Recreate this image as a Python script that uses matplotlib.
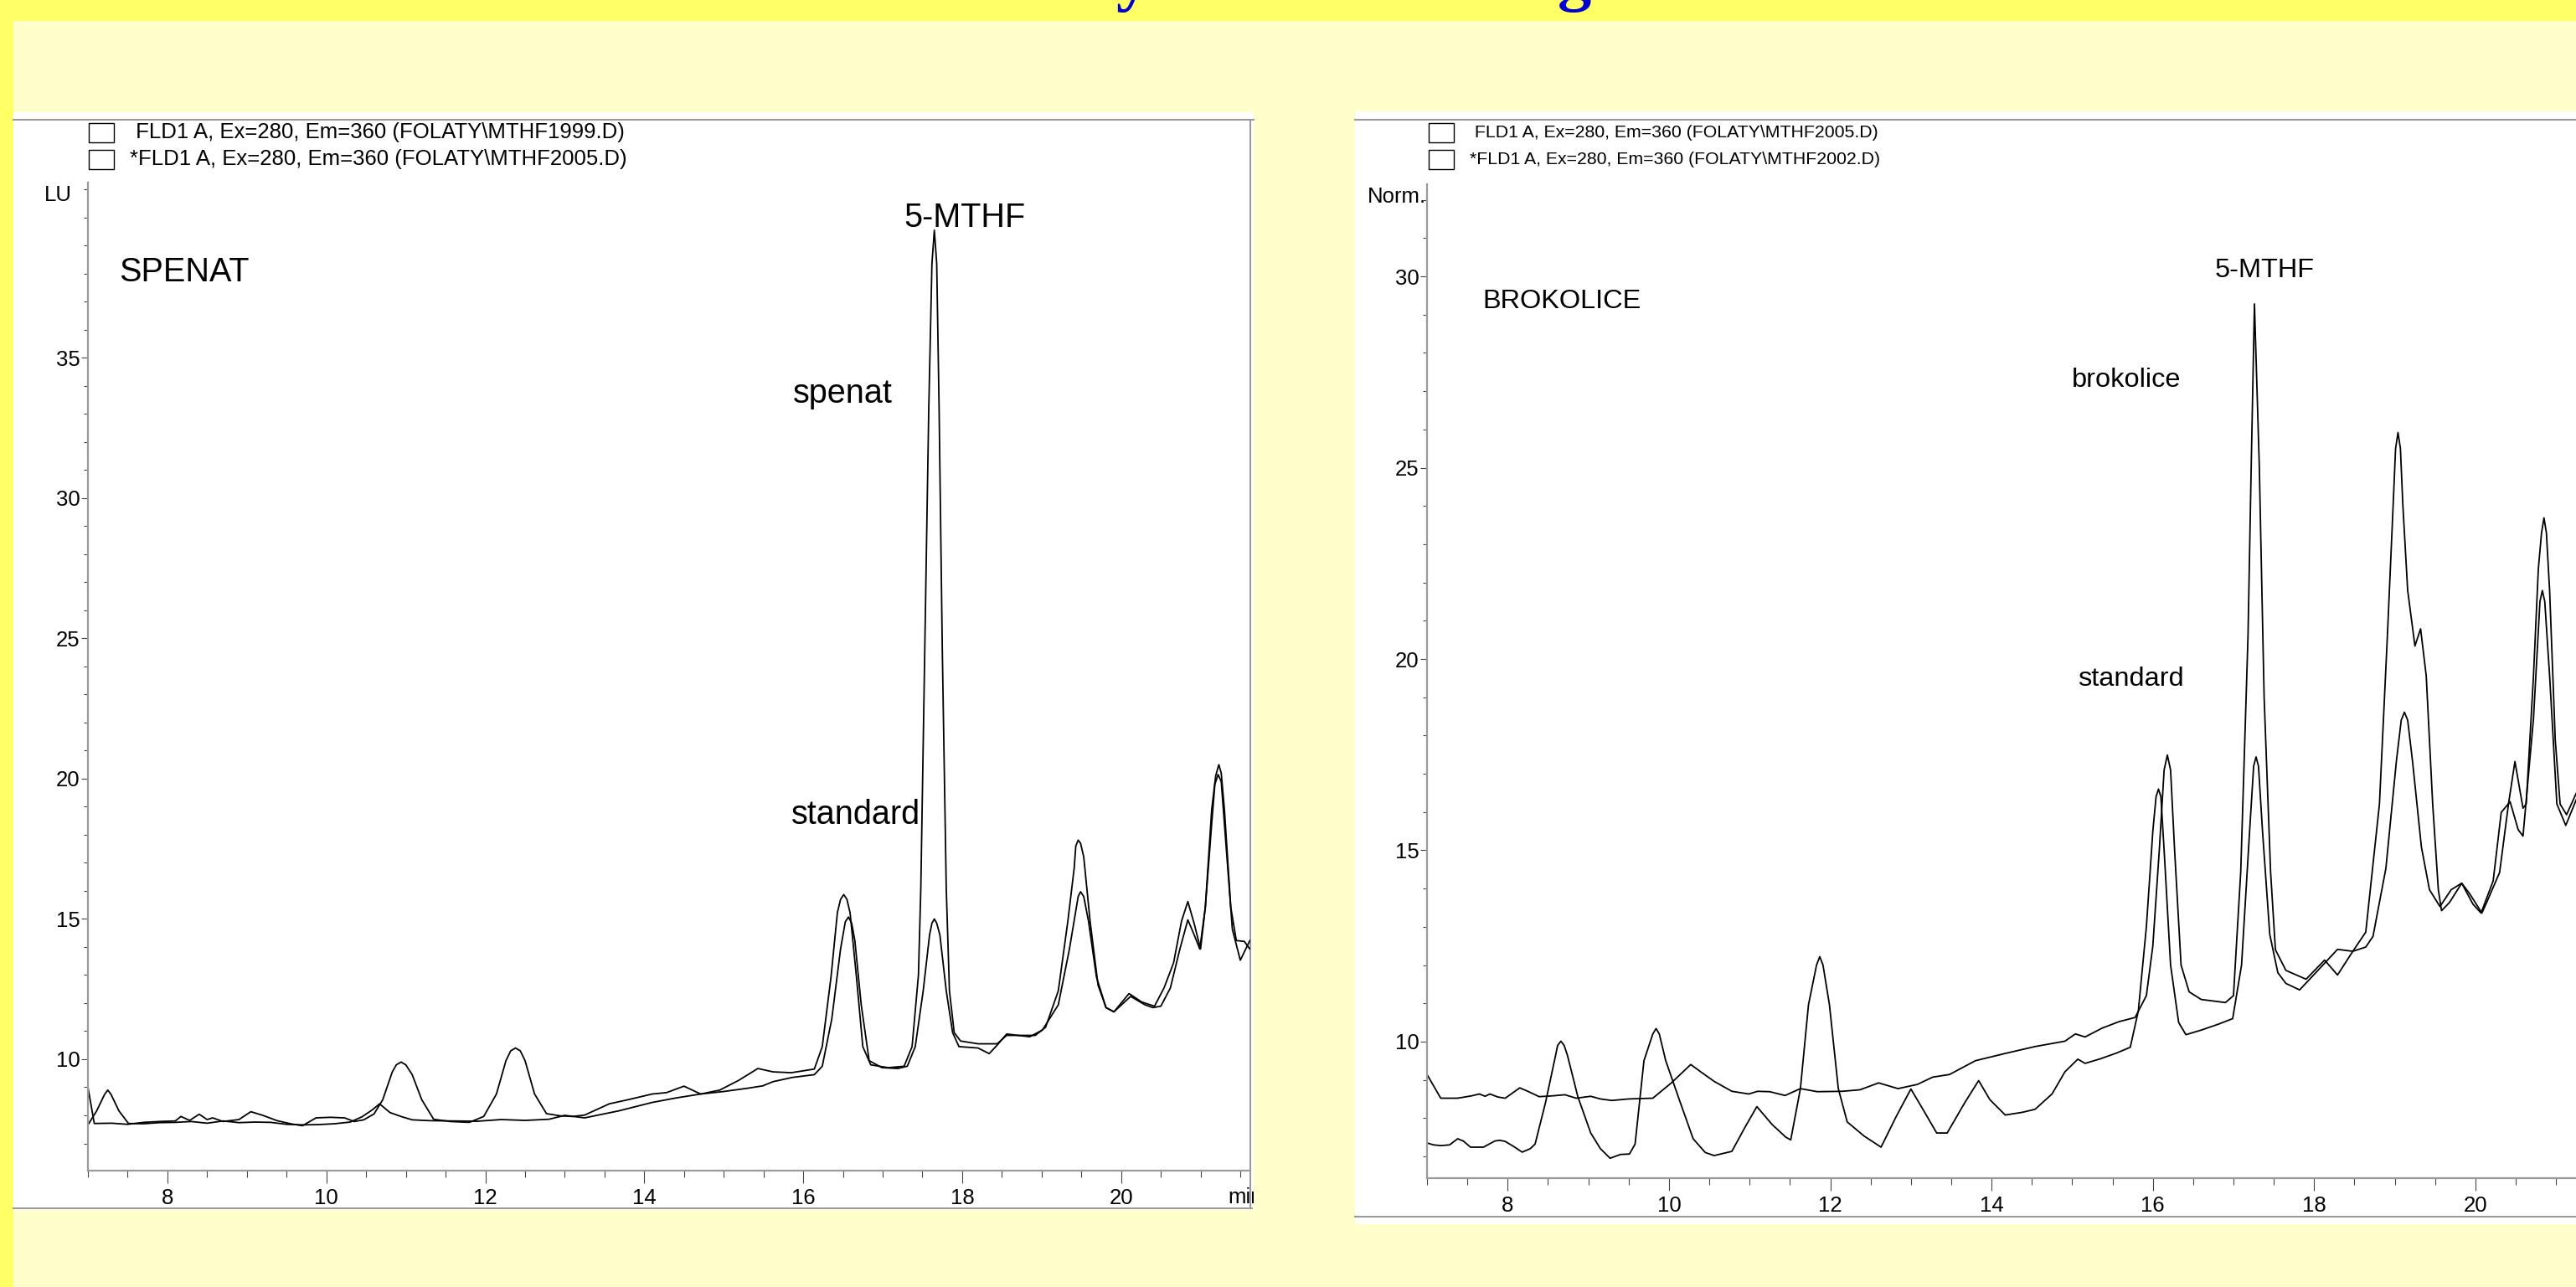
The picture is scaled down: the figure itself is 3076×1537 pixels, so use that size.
import matplotlib
matplotlib.use('Agg')
import matplotlib.pyplot as plt
from matplotlib.patches import Rectangle
from matplotlib.lines import Line2D
from matplotlib.ticker import MultipleLocator, FixedLocator
from matplotlib import font_manager

# ---- data: (time in min, signal) ----
# left: spinach sample vs standard
spenat = [(7.0, 9.0), (7.08, 7.71), (7.3, 7.72), (7.5, 7.68), (7.7, 7.75), (7.9, 7.78), (8.1, 7.8),
          (8.17, 7.96), (8.28, 7.82), (8.4, 8.04), (8.5, 7.85), (8.57, 7.91), (8.7, 7.78), (8.9, 7.85),
          (9.05, 8.13), (9.2, 8.0), (9.38, 7.81), (9.55, 7.7), (9.7, 7.63), (9.87, 7.91), (10.05, 7.93),
          (10.23, 7.91), (10.35, 7.78), (10.47, 7.84), (10.6, 8.05), (10.71, 8.56), (10.83, 9.55),
          (10.88, 9.8), (10.94, 9.9), (11.0, 9.8), (11.08, 9.45), (11.2, 8.56), (11.35, 7.86),
          (11.56, 7.78), (11.8, 7.75), (11.98, 7.96), (12.14, 8.76), (12.26, 9.95), (12.32, 10.3),
          (12.38, 10.4), (12.44, 10.3), (12.5, 9.95), (12.62, 8.76), (12.77, 8.06), (12.95, 7.98),
          (13.1, 7.96), (13.25, 8.01), (13.56, 8.41), (13.8, 8.56), (14.1, 8.76), (14.28, 8.81),
          (14.5, 9.04), (14.71, 8.76), (14.95, 8.9), (15.19, 9.25), (15.43, 9.67), (15.62, 9.55),
          (15.85, 9.52), (16.14, 9.65), (16.24, 10.45), (16.35, 12.93), (16.43, 15.22), (16.47, 15.7),
          (16.51, 15.87), (16.55, 15.7), (16.59, 15.22), (16.67, 12.93), (16.75, 10.45), (16.85, 9.8),
          (17.07, 9.7), (17.27, 9.75), (17.37, 10.45), (17.45, 13.0), (17.48, 16.09), (17.53, 24.65),
          (17.58, 33.2), (17.62, 38.36), (17.65, 39.55), (17.68, 38.36), (17.71, 33.2), (17.75, 24.65),
          (17.8, 16.09), (17.84, 12.44), (17.9, 10.95), (17.98, 10.65), (18.2, 10.55), (18.44, 10.55),
          (18.56, 10.85), (18.72, 10.85), (18.92, 10.85), (19.05, 11.14), (19.21, 12.44), (19.33, 14.92),
          (19.41, 16.82), (19.43, 17.6), (19.46, 17.81), (19.49, 17.7), (19.53, 17.21), (19.61, 14.92),
          (19.71, 12.64), (19.81, 11.84), (19.91, 11.69), (20.1, 12.34), (20.26, 12.04), (20.42, 11.89),
          (20.54, 12.54), (20.66, 13.43), (20.76, 14.92), (20.84, 15.62), (20.92, 14.83), (21.0, 13.93),
          (21.06, 15.42), (21.14, 18.9), (21.19, 20.1), (21.23, 20.5), (21.26, 20.2), (21.3, 18.9),
          (21.38, 15.42), (21.45, 14.23), (21.55, 14.2), (21.62, 13.93), (21.7, 14.0)]

standard_1 = [(7.0, 7.66), (7.11, 8.16), (7.21, 8.75), (7.25, 8.9), (7.29, 8.75), (7.39, 8.16),
              (7.51, 7.71), (7.7, 7.7), (7.9, 7.74), (8.1, 7.75), (8.3, 7.78), (8.5, 7.72), (8.7, 7.8),
              (8.9, 7.74), (9.1, 7.76), (9.3, 7.75), (9.5, 7.68), (9.7, 7.66), (9.9, 7.67), (10.1, 7.7),
              (10.3, 7.76), (10.45, 7.95), (10.58, 8.2), (10.67, 8.41), (10.8, 8.1), (10.95, 7.95),
              (11.08, 7.84), (11.3, 7.81), (11.6, 7.8), (11.9, 7.79), (12.2, 7.85), (12.5, 7.82),
              (12.8, 7.86), (13.0, 8.0), (13.25, 7.91), (13.68, 8.16), (14.1, 8.46), (14.4, 8.62),
              (14.71, 8.76), (15.0, 8.85), (15.31, 8.97), (15.49, 9.05), (15.62, 9.2), (15.86, 9.35),
              (16.14, 9.45), (16.24, 9.75), (16.36, 11.44), (16.47, 13.93), (16.53, 14.9), (16.57, 15.07),
              (16.61, 14.85), (16.65, 14.23), (16.73, 11.94), (16.83, 9.95), (16.99, 9.7), (17.19, 9.67),
              (17.31, 9.75), (17.41, 10.45), (17.51, 12.44), (17.59, 14.43), (17.62, 14.85), (17.65, 15.0),
              (17.68, 14.85), (17.72, 14.43), (17.8, 12.44), (17.88, 10.95), (17.96, 10.45), (18.2, 10.4),
              (18.34, 10.2), (18.44, 10.5), (18.56, 10.9), (18.85, 10.8), (19.01, 11.04), (19.21, 11.94),
              (19.35, 13.93), (19.46, 15.8), (19.49, 15.97), (19.53, 15.8), (19.59, 14.92), (19.69, 12.93),
              (19.81, 11.84), (19.91, 11.69), (20.12, 12.24), (20.3, 11.94), (20.4, 11.84), (20.5, 11.89),
              (20.62, 12.54), (20.74, 13.93), (20.84, 14.97), (20.92, 14.43), (20.99, 13.93), (21.06, 15.42),
              (21.14, 18.4), (21.18, 19.8), (21.22, 20.15), (21.26, 19.9), (21.3, 18.4), (21.4, 14.63),
              (21.5, 13.53), (21.62, 14.23), (21.7, 14.3)]

# right: broccoli sample vs standard
brokolice = [(7.0, 9.14), (7.17, 8.52), (7.38, 8.52), (7.55, 8.58), (7.65, 8.63), (7.72, 8.57),
             (7.78, 8.63), (7.88, 8.55), (7.97, 8.52), (8.15, 8.79), (8.25, 8.7), (8.39, 8.56), (8.55, 8.58),
             (8.71, 8.61), (8.85, 8.52), (9.03, 8.57), (9.15, 8.5), (9.29, 8.46), (9.5, 8.5), (9.8, 8.52),
             (10.03, 8.92), (10.27, 9.4), (10.4, 9.2), (10.56, 8.96), (10.78, 8.7), (10.99, 8.63),
             (11.1, 8.7), (11.25, 8.69), (11.44, 8.59), (11.63, 8.77), (11.84, 8.69), (12.15, 8.7),
             (12.37, 8.74), (12.6, 8.92), (12.84, 8.77), (13.08, 8.88), (13.27, 9.07), (13.48, 9.14),
             (13.8, 9.5), (14.17, 9.69), (14.54, 9.87), (14.91, 10.01), (15.04, 10.2), (15.16, 10.12),
             (15.37, 10.35), (15.58, 10.52), (15.78, 10.63), (15.92, 11.2), (16.0, 12.5), (16.08, 15.0),
             (16.14, 17.1), (16.18, 17.49), (16.22, 17.1), (16.27, 15.0), (16.35, 12.0), (16.45, 11.3),
             (16.6, 11.1), (16.9, 11.02), (17.0, 11.2), (17.09, 14.44), (17.18, 20.59), (17.22, 25.05),
             (17.26, 29.28), (17.32, 25.05), (17.38, 19.0), (17.46, 14.44), (17.52, 12.4), (17.65, 11.86),
             (17.9, 11.63), (18.13, 12.13), (18.29, 11.74), (18.48, 12.36), (18.64, 12.86), (18.81, 16.21),
             (18.91, 20.68), (18.98, 24.03), (19.01, 25.5), (19.04, 25.92), (19.07, 25.5), (19.1, 24.03),
             (19.16, 21.79), (19.25, 20.34), (19.32, 20.79), (19.39, 19.56), (19.47, 16.21), (19.54, 13.97),
             (19.58, 13.42), (19.68, 13.64), (19.83, 14.14), (19.93, 13.86), (20.08, 13.36), (20.14, 13.64),
             (20.3, 14.42), (20.41, 16.21), (20.49, 17.32), (20.59, 16.1), (20.63, 16.21), (20.72, 19.56),
             (20.78, 22.35), (20.82, 23.3), (20.85, 23.69), (20.88, 23.3), (20.92, 21.79), (20.99, 17.88),
             (21.05, 16.21), (21.13, 15.93), (21.25, 16.49)]

standard_2 = [(7.0, 7.35), (7.08, 7.3), (7.17, 7.28), (7.28, 7.3), (7.38, 7.46), (7.45, 7.4),
              (7.54, 7.24), (7.7, 7.24), (7.84, 7.4), (7.9, 7.42), (7.97, 7.39), (8.08, 7.25), (8.18, 7.11),
              (8.28, 7.2), (8.34, 7.32), (8.47, 8.41), (8.58, 9.5), (8.62, 9.9), (8.66, 10.01), (8.7, 9.9),
              (8.74, 9.65), (8.87, 8.56), (9.03, 7.61), (9.15, 7.2), (9.27, 6.95), (9.4, 7.05), (9.51, 7.06),
              (9.58, 7.32), (9.69, 9.5), (9.8, 10.2), (9.84, 10.34), (9.88, 10.2), (9.96, 9.5), (10.14, 8.41),
              (10.3, 7.46), (10.45, 7.1), (10.56, 7.02), (10.78, 7.13), (10.94, 7.75), (11.09, 8.3),
              (11.28, 7.83), (11.45, 7.5), (11.51, 7.43), (11.63, 8.77), (11.73, 10.96), (11.83, 12.0),
              (11.87, 12.22), (11.91, 12.0), (11.99, 10.96), (12.1, 8.77), (12.21, 7.9), (12.42, 7.53),
              (12.63, 7.24), (12.82, 8.05), (13.0, 8.76), (13.16, 8.19), (13.32, 7.61), (13.45, 7.61),
              (13.67, 8.41), (13.84, 8.98), (13.98, 8.48), (14.17, 8.08), (14.38, 8.15), (14.54, 8.23),
              (14.75, 8.63), (14.91, 9.21), (15.07, 9.54), (15.16, 9.43), (15.35, 9.55), (15.55, 9.7),
              (15.72, 9.85), (15.82, 10.8), (15.92, 13.0), (16.0, 15.5), (16.04, 16.4), (16.07, 16.6),
              (16.1, 16.4), (16.14, 15.0), (16.22, 12.0), (16.32, 10.5), (16.41, 10.18), (16.6, 10.3),
              (16.82, 10.46), (16.99, 10.6), (17.1, 12.0), (17.2, 15.5), (17.25, 17.2), (17.28, 17.44),
              (17.31, 17.2), (17.36, 15.5), (17.45, 12.8), (17.55, 11.8), (17.65, 11.52), (17.82, 11.35),
              (18.02, 11.8), (18.29, 12.41), (18.48, 12.36), (18.64, 12.47), (18.73, 12.75), (18.89, 14.53),
              (19.02, 17.33), (19.08, 18.4), (19.12, 18.61), (19.16, 18.4), (19.22, 17.33), (19.33, 15.09),
              (19.43, 13.97), (19.56, 13.53), (19.7, 13.97), (19.83, 14.14), (19.97, 13.59), (20.07, 13.36),
              (20.22, 14.2), (20.32, 15.99), (20.43, 16.27), (20.53, 15.54), (20.59, 15.37), (20.72, 18.44),
              (20.8, 21.5), (20.83, 21.79), (20.86, 21.5), (20.92, 19.56), (21.01, 16.21), (21.12, 15.65),
              (21.25, 16.32)]

left_legend = [' FLD1 A, Ex=280, Em=360 (FOLATY\\MTHF1999.D)',
               '*FLD1 A, Ex=280, Em=360 (FOLATY\\MTHF2005.D)']
right_legend = [' FLD1 A, Ex=280, Em=360 (FOLATY\\MTHF2005.D)',
                '*FLD1 A, Ex=280, Em=360 (FOLATY\\MTHF2002.D)']
left_yticks = [10, 15, 20, 25, 30, 35]
right_yticks = [10, 15, 20, 25, 30]

W, H = 3076, 1537
BG = '#FFFFCC'
STRIP = '#FFFF66'
GRAY = '#9a9a9a'

names = {f.name for f in font_manager.fontManager.ttflist}
NARROW = 'Liberation Sans Narrow' if 'Liberation Sans Narrow' in names else None
SANS = 'Liberation Sans'


def fx(px):
    return px / W


def fy(py):
    return 1 - py / H


fig = plt.figure(figsize=(W / 100, H / 100), dpi=100, facecolor=BG)


def rect(x0, y0, x1, y1, fc, ec='none', lw=0, z=-10):
    r = Rectangle((fx(x0), fy(y1)), (x1 - x0) / W, (y1 - y0) / H, transform=fig.transFigure,
                  facecolor=fc, edgecolor=ec, linewidth=lw, zorder=z)
    fig.add_artist(r)
    return r


def line(xs, ys, color=GRAY, lw=1.5, z=-5):
    fig.add_artist(Line2D([fx(x) for x in xs], [fy(y) for y in ys], transform=fig.transFigure,
                          color=color, lw=lw, zorder=z))


# background strips
rect(0, 0, W, 25, STRIP)
rect(0, 0, 16, H, STRIP)

# title fragments, cut off by the top edge as in the slide
for ch, x in [('y', 1352), ('g', 1880)]:
    fig.text(fx(x), fy(-2), ch, ha='center', va='baseline', fontsize=58, fontweight='bold',
             family='Liberation Serif', color='#0000CC')

# white panels with their frame lines
left_panel = rect(16, 134, 1497, 1445, 'white')
rect(1618, 133, W, 1462, 'white')
line([16, 1497], [143, 143])
line([1493, 1493], [143, 1443])
line([16, 1495], [1443, 1443])
line([1618, W], [143, 143])
line([1618, W], [1453, 1453])

tick_family = NARROW or SANS
tick_size = 20 if NARROW else 18.5


def setup(ax, xlim, ylim, yticks):
    ax.set_xlim(*xlim)
    ax.set_ylim(*ylim)
    ax.patch.set_alpha(0)
    for s in ['top', 'right']:
        ax.spines[s].set_visible(False)
    for s in ['left', 'bottom']:
        ax.spines[s].set_color(GRAY)
        ax.spines[s].set_linewidth(1.6)
    ax.xaxis.set_major_locator(MultipleLocator(2))
    ax.xaxis.set_minor_locator(MultipleLocator(0.5))
    ax.yaxis.set_major_locator(FixedLocator(yticks))
    ax.yaxis.set_minor_locator(MultipleLocator(1))
    ax.tick_params(axis='x', which='major', length=11, width=0.8, color='#444444', pad=4)
    ax.tick_params(axis='x', which='minor', length=6, width=0.8, color='#444444')
    ax.tick_params(axis='y', which='major', length=6, width=0.8, color='#444444', pad=1)
    ax.tick_params(axis='y', which='minor', length=3.5, width=0.8, color='#444444')
    for lab in ax.get_xticklabels() + ax.get_yticklabels():
        lab.set_family(tick_family)
        lab.set_fontsize(tick_size)


# left chromatogram
axL = fig.add_axes([fx(105), fy(1398), (1493 - 105) / W, (1398 - 218) / H])
for series in (spenat, standard_1):
    t, v = zip(*series)
    axL.plot(t, v, color='black', lw=1.3)
setup(axL, (7, 7 + (1493 - 105) / 94.9), (6.03, 41.25), left_yticks)

ann = dict(family=SANS, fontsize=28.5, color='black', va='center', ha='left')
axL.text(7.39, 38.06, 'SPENAT', **ann)
axL.text(17.27, 40.0, '5-MTHF', **ann)
axL.text(15.87, 33.73, 'spenat', **ann)
axL.text(15.85, 18.72, 'standard', **ann)

mi = fig.text(fx(1466), fy(1430), 'min', family=tick_family, fontsize=tick_size, va='center', ha='left')
mi.set_clip_path(left_panel)
fig.text(fx(86), fy(233), 'LU', family=tick_family, fontsize=tick_size, va='center', ha='right')

# right chromatogram
axR = fig.add_axes([fx(1704), fy(1407), (W - 1704) / W, (1407 - 220) / H])
for series in (brokolice, standard_2):
    t, v = zip(*series)
    axR.plot(t, v, color='black', lw=1.3)
setup(axR, (7, 7 + (W - 1704) / 96.3), (6.43, 32.41), right_yticks)

if NARROW:
    annR = dict(family=NARROW, fontsize=28.5, color='black', va='center', ha='left')
else:
    annR = dict(family=SANS, fontsize=23.4, color='black', va='center', ha='left')
axR.text(7.685, 29.34, 'BROKOLICE', **annR)
axR.text(16.77, 30.15, '5-MTHF', **annR)
axR.text(14.99, 27.29, 'brokolice', **annR)
axR.text(15.07, 19.47, 'standard', **annR)
fig.text(fx(1703), fy(235), 'Norm.', family=tick_family, fontsize=tick_size, va='center', ha='right')

# legend headers of both chromatograms
for x0, labels, fam, size in [(106, left_legend, SANS, 18.5),
                              (1706, right_legend, NARROW or SANS, 18.5 if NARROW else 15.3)]:
    for i, lab in enumerate(labels):
        yc = 158 + 32 * i
        rect(x0, yc - 11, x0 + 30, yc + 12, 'none', ec='black', lw=1.0, z=5)
        fig.text(fx(x0 + 49), fy(yc), lab, family=fam, fontsize=size, va='center', ha='left')

fig.savefig('out.png', dpi=100, facecolor=BG)
